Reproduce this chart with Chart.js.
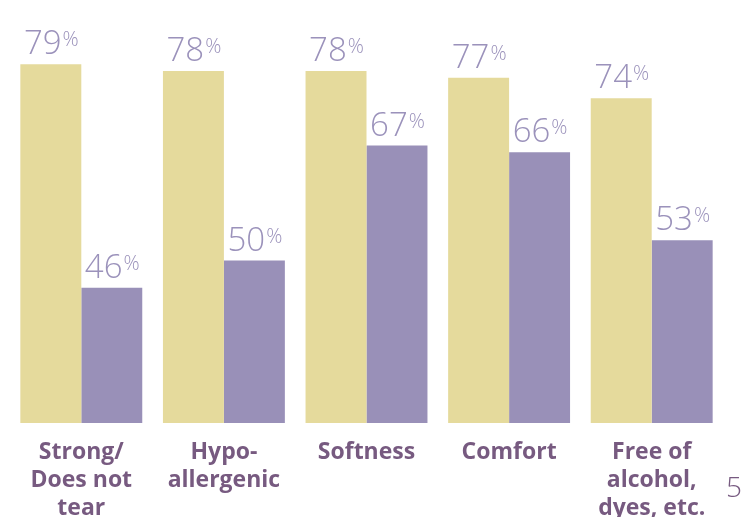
<!DOCTYPE html>
<html>
<head>
<meta charset="utf-8">
<script src="https://cdn.jsdelivr.net/npm/chart.js@4.4.1/dist/chart.umd.min.js"></script>
<style>
  body { margin: 0; background: #fff; }
  #wrap { position: relative; width: 754px; height: 517px; overflow: hidden; }
  #pageNum { position: absolute; left: 726px; top: 467px; font: 300 28px "Open Sans", sans-serif; color: #775a80; }
</style>
</head>
<body>
<div id="wrap">
  <canvas id="chart" width="754" height="517"></canvas>
  <div id="pageNum">5</div>
</div>
<script>
const categories = [
    ['Strong/', 'Does not', 'tear'],
    ['Hypo-', 'allergenic'],
    ['Softness'],
    ['Comfort'],
    ['Free of', 'alcohol,', 'dyes, etc.']
];
const seriesA = [79, 78, 78, 77, 74];
const seriesB = [46, 50, 67, 66, 53];

const labelColor = '#9b92bb';

// draws "79%" above each bar, with a smaller raised percent sign
const valueLabels = {
    id: 'valueLabels',
    afterDatasetsDraw(chart) {
        const ctx = chart.ctx;
        ctx.save();
        ctx.fillStyle = labelColor;
        ctx.textBaseline = 'alphabetic';
        ctx.textAlign = 'left';
        chart.data.datasets.forEach((ds, i) => {
            chart.getDatasetMeta(i).data.forEach((bar, j) => {
                const num = String(ds.data[j]);
                ctx.font = '300 33px "Open Sans", sans-serif';
                const w1 = ctx.measureText(num).width;
                ctx.font = '300 20px "Open Sans", sans-serif';
                const w2 = ctx.measureText('%').width;
                const x = bar.x - (w1 + w2) / 2;
                const y = bar.y - 10;
                ctx.font = '300 33px "Open Sans", sans-serif';
                ctx.fillText(num, x, y);
                ctx.font = '300 20px "Open Sans", sans-serif';
                ctx.fillText('%', x + w1 + 1, y - 8);
            });
        });
        ctx.restore();
    }
};

const ctx = document.getElementById('chart').getContext('2d');
const chart = new Chart(ctx, {
    type: 'bar',
    data: {
        labels: categories,
        datasets: [
            {
                data: seriesA,
                backgroundColor: '#e5da9c',
                borderWidth: 0
            },
            {
                data: seriesB,
                backgroundColor: '#9990b8',
                borderWidth: 0
            }
        ]
    },
    options: {
        responsive: false,
        animation: false,
        events: [],
        layout: { padding: { left: 10, right: 31, top: 0, bottom: 0 } },
        plugins: {
            legend: { display: false },
            tooltip: { enabled: false }
        },
        datasets: {
            bar: { categoryPercentage: 0.855, barPercentage: 1.0 }
        },
        scales: {
            x: {
                grid: { display: false, drawTicks: false },
                border: { display: false },
                ticks: {
                    color: '#775a80',
                    padding: 16,
                    maxRotation: 0,
                    autoSkip: false,
                    font: { family: '"Open Sans", sans-serif', size: 23, weight: 'bold', lineHeight: 1.2 }
                },
                afterFit(scale) { scale.height = 94; }
            },
            y: {
                display: false,
                min: 26,
                max: 88.5
            }
        }
    },
    plugins: [valueLabels]
});
</script>
</body>
</html>
